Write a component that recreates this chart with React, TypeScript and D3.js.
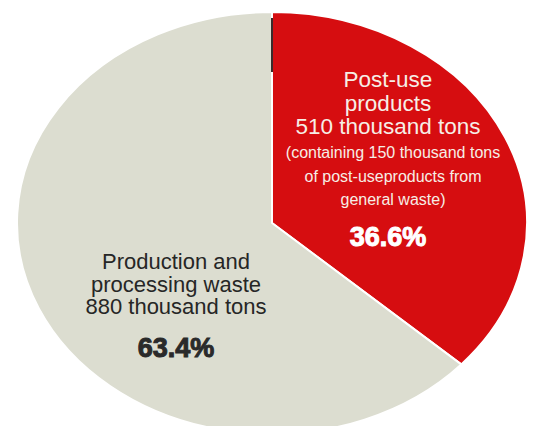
import React from "react";
import * as d3 from "d3";

const categories = ["Post-use products", "Production and processing waste"];
const values = [510, 880]; // thousand tons
const percentLabels = ["36.6%", "63.4%"];
const colors = ["#d60d10", "#dcddd0"];
const titleLines = [
  ["Post-use", "products", "510 thousand tons"],
  ["Production and", "processing waste", "880 thousand tons"],
];
const noteLines = [
  ["(containing 150 thousand tons", "of post-useproducts from", "general waste)"],
  [],
];

const W = 535;
const H = 426;
const cx = 272;
const cy = 223;
const rx = 255;
const ry = 211;

export default function App() {
  const pie = d3
    .pie<number>()
    .sort(null)
    .value((d) => d)
    .startAngle(0)
    .endAngle(2 * Math.PI);
  const arcs = pie(values);
  const arc = d3.arc<d3.PieArcDatum<number>>().innerRadius(0).outerRadius(ry);
  const sx = rx / ry;

  const font = "'Liberation Sans', Arial, Helvetica, sans-serif";

  return (
    <svg
      width={W}
      height={H}
      viewBox={`0 0 ${W} ${H}`}
      style={{ position: "absolute", left: 0, top: 0, background: "#ffffff" }}
    >
      <g transform={`translate(${cx},${cy}) scale(${sx},1)`}>
        {arcs.map((a, i) => (
          <path
            key={categories[i]}
            d={arc(a) || ""}
            fill={colors[i]}
            stroke="#ffffff"
            strokeWidth={2}
            vectorEffect="non-scaling-stroke"
            strokeLinejoin="round"
          />
        ))}
      </g>
      <line x1={cx} x2={cx} y1={cy - ry + 6} y2={cy - ry + 60} stroke="#3b2b2b" strokeWidth={2} />

      {/* Post-use products label */}
      <g fontFamily={font} textAnchor="middle">
        {titleLines[0].map((t, i) => (
          <text key={t} x={388} y={87 + i * 23.5} fontSize={22.5} fill="#f6eee6">
            {t}
          </text>
        ))}
        {noteLines[0].map((t, i) => (
          <text key={t} x={393} y={158 + i * 23.5} fontSize={16} fill="#f6eee6">
            {t}
          </text>
        ))}
        <text
          x={388}
          y={246}
          fontSize={27}
          fontWeight={900}
          fill="#ffffff"
          stroke="#ffffff"
          strokeWidth={1}
        >
          {percentLabels[0]}
        </text>
      </g>

      {/* Production waste label */}
      <g fontFamily={font} textAnchor="middle">
        {titleLines[1].map((t, i) => (
          <text key={t} x={176} y={269 + i * 22.5} fontSize={22} fill="#262626">
            {t}
          </text>
        ))}
        <text
          x={176}
          y={357}
          fontSize={27}
          fontWeight={900}
          fill="#2a2a2a"
          stroke="#2a2a2a"
          strokeWidth={1}
        >
          {percentLabels[1]}
        </text>
      </g>
    </svg>
  );
}
